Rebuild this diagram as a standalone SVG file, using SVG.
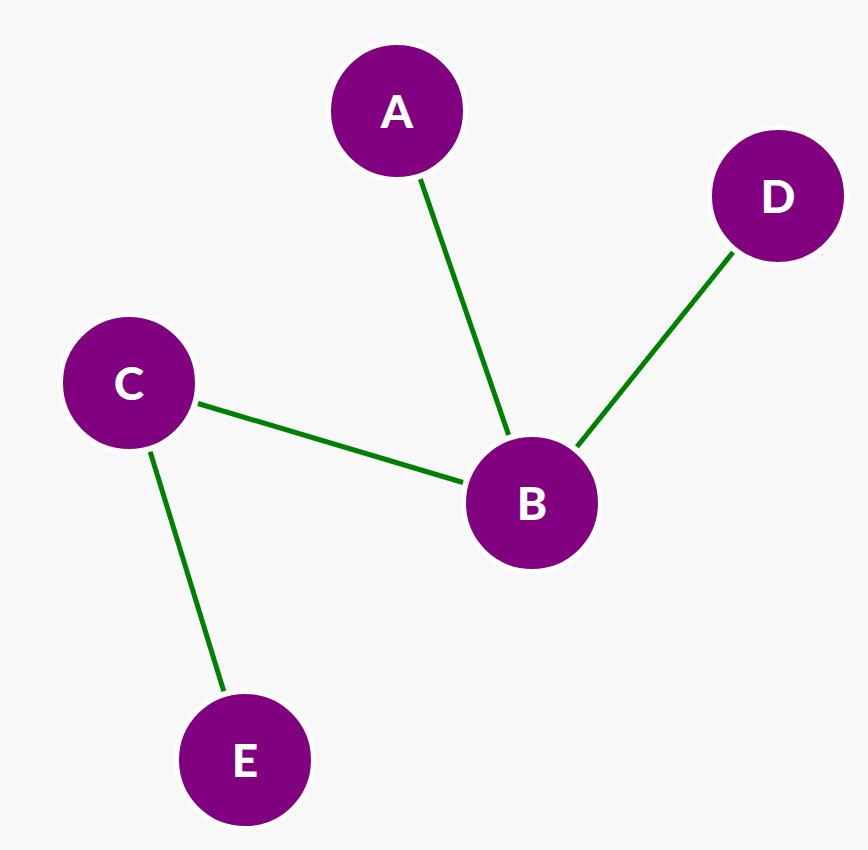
<svg xmlns="http://www.w3.org/2000/svg" width="868" height="850" viewBox="0 0 868 850">
<style>
.edge{stroke:#008000;stroke-width:5;stroke-linecap:butt;fill:none}
.node circle{fill:#800080;stroke:#ffffff;stroke-width:5}
.node text{fill:#ffffff;font-family:Lato,"Open Sans","Liberation Sans",sans-serif;font-weight:900;font-size:46px;text-anchor:middle}
</style>
<rect x="0" y="0" width="868" height="850" fill="#f8f8f8"/>
<g id="edges">
<line class="edge" x1="420.4" y1="179.1" x2="508.6" y2="434.9"/>
<line class="edge" x1="733" y1="252.2" x2="577" y2="446.8"/>
<line class="edge" x1="198" y1="403.5" x2="463" y2="482.5"/>
<line class="edge" x1="150.2" y1="451.8" x2="223.8" y2="691.2"/>
</g>
<g id="node-A" class="node"><circle cx="397" cy="111" r="68.5"/><text x="397" y="128">A</text></g>
<g id="node-D" class="node"><circle cx="778" cy="196" r="68.5"/><text x="778" y="213">D</text></g>
<g id="node-C" class="node"><circle cx="129" cy="383" r="68.5"/><text x="129" y="400">C</text></g>
<g id="node-B" class="node"><circle cx="532" cy="503" r="68.5"/><text x="532" y="520">B</text></g>
<g id="node-E" class="node"><circle cx="245" cy="760" r="68.5"/><text x="245" y="777">E</text></g>
</svg>
